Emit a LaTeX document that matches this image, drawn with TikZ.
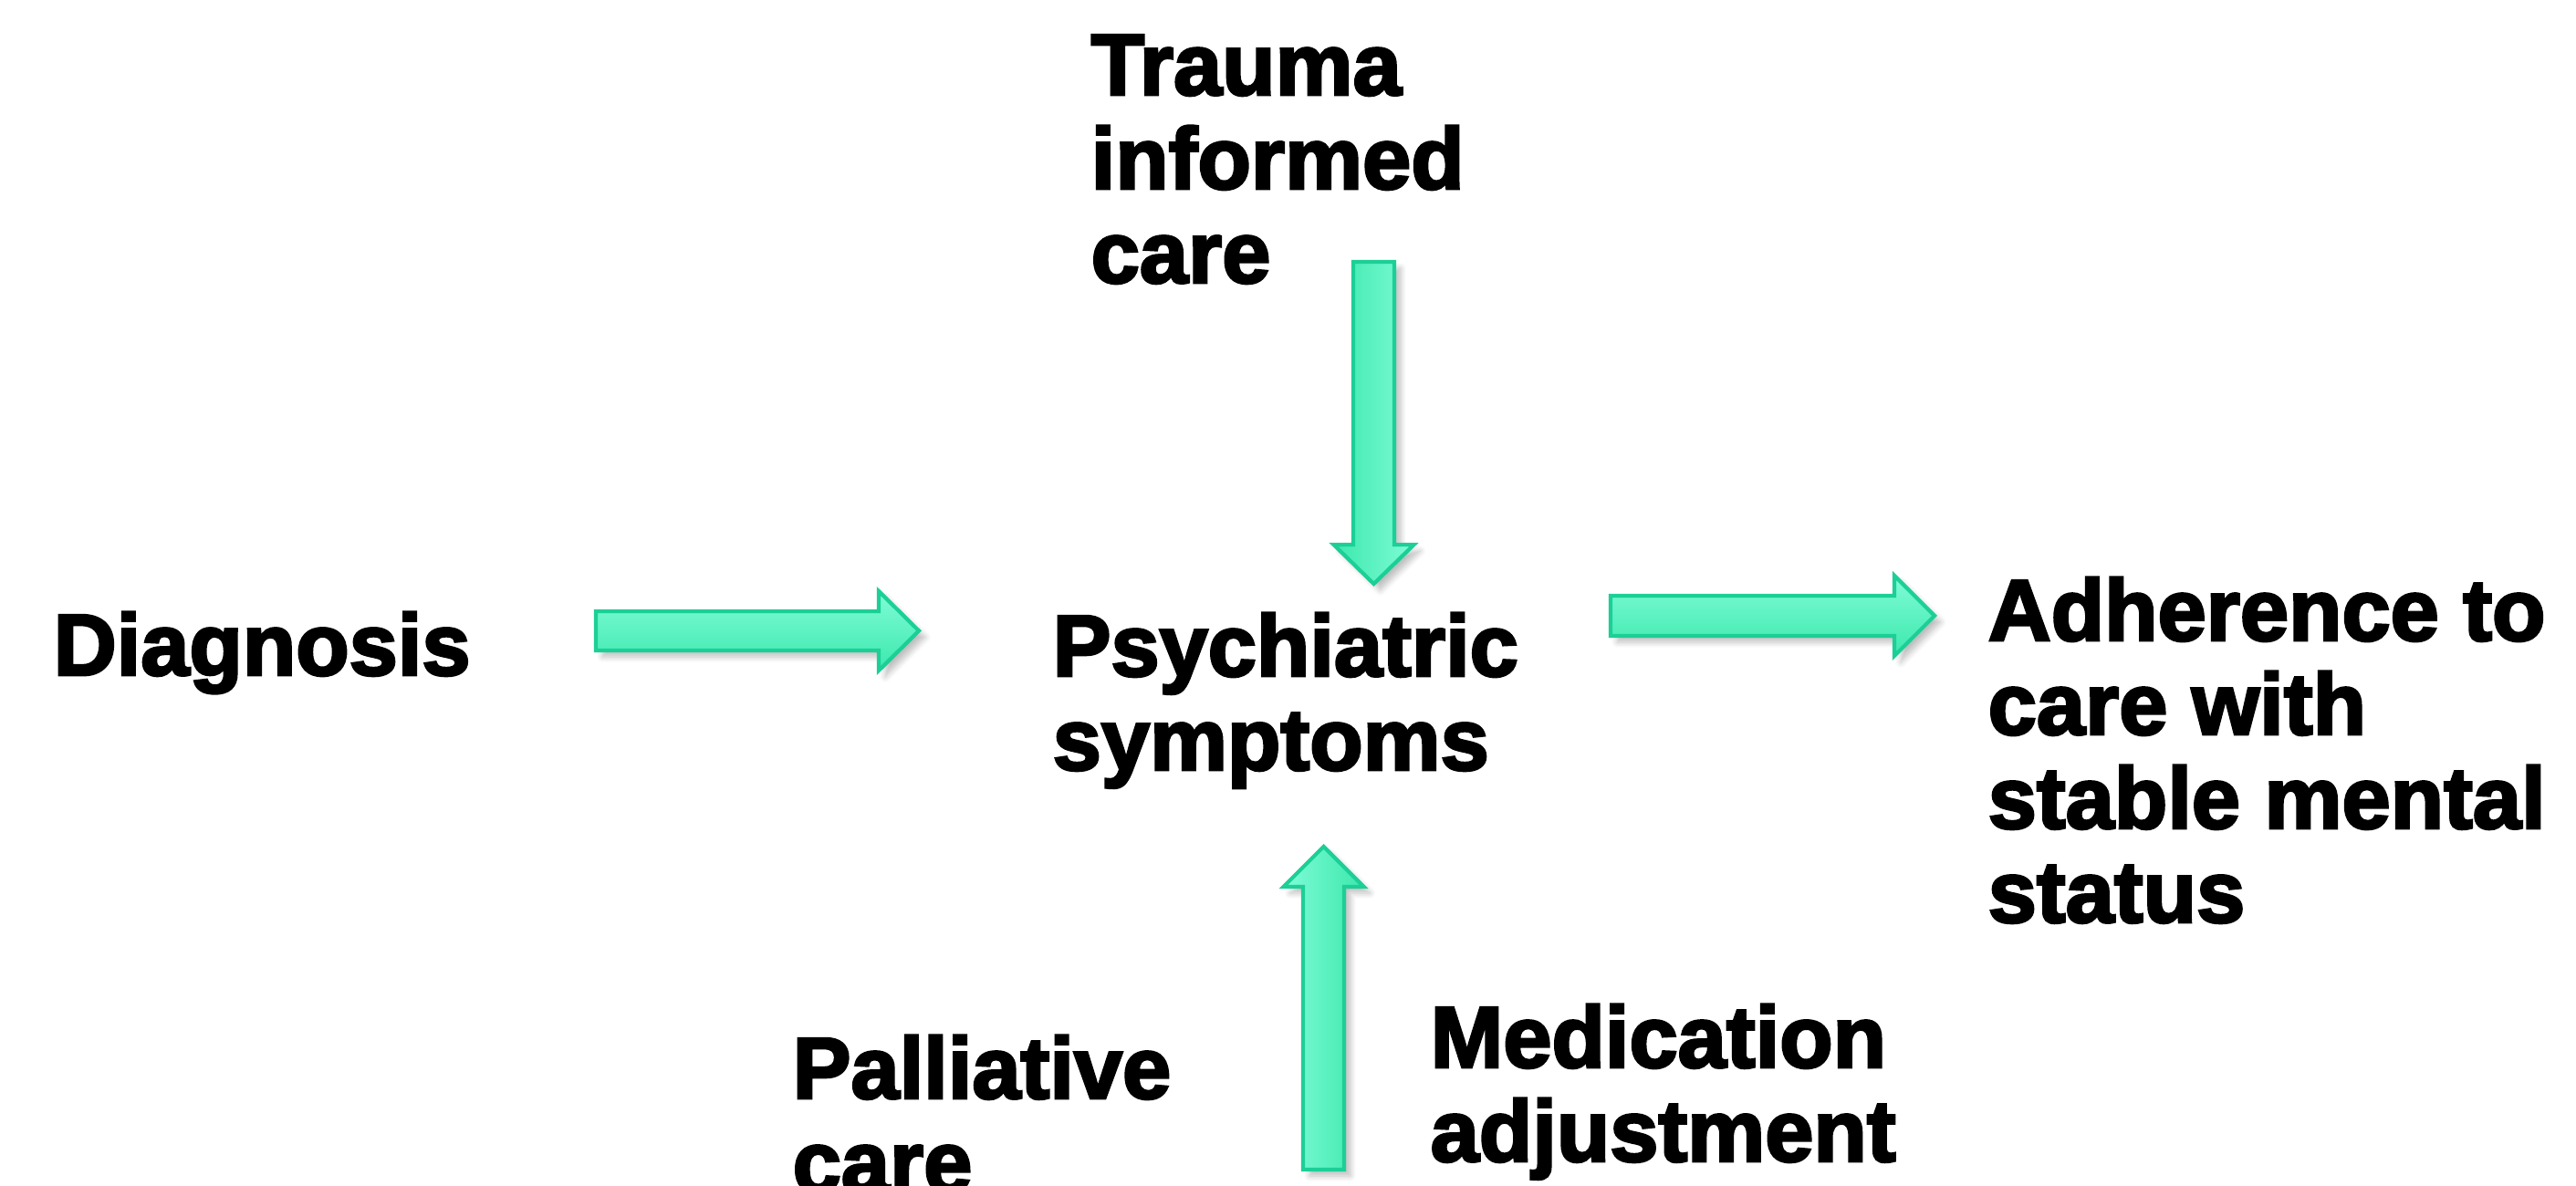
\documentclass[tikz,border=0pt]{standalone}
\usepackage{fontspec}
\newfontfamily\heavyfont{Liberation Sans Bold}[FakeBold=3]
\usetikzlibrary{shadows.blur}
\definecolor{mintlt}{HTML}{80FCD6}
\definecolor{mintdk}{HTML}{3BE8AD}
\definecolor{mintln}{HTML}{1CCF96}

\begin{document}
\begin{tikzpicture}[
   lbl/.style={anchor=base west, inner sep=0pt, align=left, font=\heavyfont\fontsize{27.2pt}{29.3pt}\selectfont},
   barrow/.style={draw=mintln, line width=1.2pt, line join=miter,
     blur shadow={shadow xshift=2pt, shadow yshift=-2pt, shadow blur steps=6, shadow opacity=25}}]
  \useasboundingbox (0,0) rectangle (28.23,13);
  % labels (anchored at the baseline of their last line)
  \node[lbl] (diag) at (0.58,5.60) {Diagnosis};
  \node[lbl] (psych) at (11.53,4.56) {Psychiatric\\symptoms};
  \node[lbl] (trauma) at (11.95,9.90) {Trauma\\informed\\care};
  \node[lbl] (adher) at (21.78,2.89) {Adherence to\\care with\\stable mental\\status};
  \node[lbl] (palli) at (8.68,-0.07) {Palliative\\care};
  \node[lbl] (medic) at (15.67,0.27) {Medication\\adjustment};
  % block arrows
  \coordinate (diagtail) at (6.53,6.085);
  \coordinate (adhtail) at (17.65,6.25);
  \coordinate (tratail) at (15.055,10.13);
  \coordinate (medtail) at (14.505,0.18);
  \draw[barrow, top color=mintlt, bottom color=mintdk] (diagtail) ++(0,0.215) -- ++(3.10,0) -- ++(0,0.22)
       -- ++(0.44,-0.435) -- ++(-0.44,-0.435) -- ++(0,0.22) -- ++(-3.10,0) -- cycle;
  \draw[barrow, top color=mintlt, bottom color=mintdk] (adhtail) ++(0,0.22) -- ++(3.11,0) -- ++(0,0.22)
       -- ++(0.44,-0.44) -- ++(-0.44,-0.44) -- ++(0,0.22) -- ++(-3.11,0) -- cycle;
  \draw[barrow, left color=mintdk, right color=mintlt] (tratail) ++(-0.225,0) -- ++(0,-3.10) -- ++(-0.215,0)
       -- ++(0.44,-0.43) -- ++(0.44,0.43) -- ++(-0.215,0) -- ++(0,3.10) -- cycle;
  \draw[barrow, left color=mintlt, right color=mintdk] (medtail) ++(-0.225,0) -- ++(0,3.10) -- ++(-0.215,0)
       -- ++(0.44,0.44) -- ++(0.44,-0.44) -- ++(-0.215,0) -- ++(0,-3.10) -- cycle;
\end{tikzpicture}
\end{document}
